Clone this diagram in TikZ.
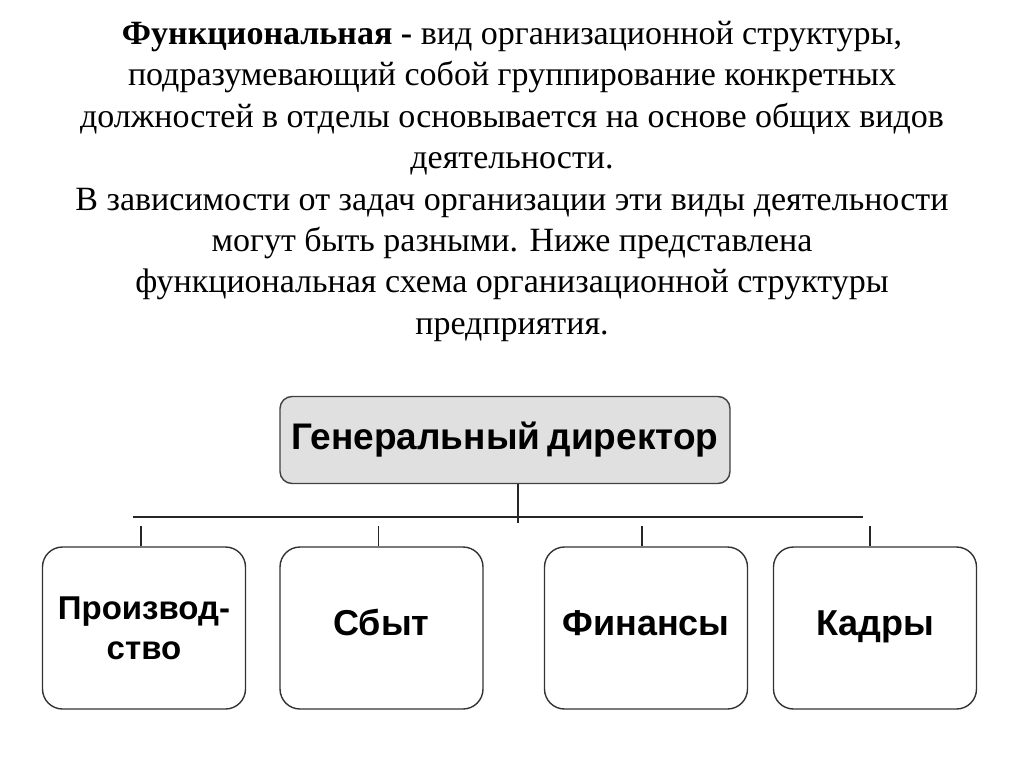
\documentclass[tikz,border=0pt]{standalone}
\usepackage{fontspec}
\setmainfont{Liberation Serif}
\setsansfont{Liberation Sans}
\usetikzlibrary{positioning,calc}

\tikzset{
  unit/.style={draw=black!80, line width=1.4pt, rounded corners=20pt,
    minimum width=203pt, minimum height=162pt, align=center,
    font=\sffamily\bfseries\fontsize{36}{35}\selectfont},
  boss/.style={draw=black!75, line width=1.4pt, rounded corners=12pt,
    fill=black!12, minimum width=450pt, minimum height=87pt,
    font=\sffamily\bfseries\fontsize{37}{40}\selectfont},
  link/.style={black!85, line width=1.3pt}
}

\begin{document}
\begin{tikzpicture}[x=1pt, y=-1pt]
  \useasboundingbox (0,0) rectangle (1024,767);

  \node[anchor=north, align=center, inner sep=0pt,
        font=\fontsize{34}{41.4}\selectfont] (intro) at (512,21)
    {\textbf{Функциональная -} вид организационной структуры,\\
     подразумевающий собой группирование конкретных\\
     должностей в отделы основывается на основе общих видов\\
     деятельности.\\
     В зависимости от задач организации эти виды деятельности\\
     могут быть разными. Ниже представлена\\
     функциональная схема организационной структуры\\
     предприятия.};

  % director
  \node[boss] (gendir) at (505,440) {Генеральный\hspace{-3pt} директор};

  % departments
  \node[unit, font=\sffamily\bfseries\fontsize{33}{40}\selectfont] (prod) at (144,628) {Производ-\\ство};
  \node[unit] (sales) at (381.5,628) {\strut Сбыт};
  \node[unit] (fin) at (646,628) {\strut Финансы};
  \node[unit] (staff) at (875,628) {\strut Кадры};

  % bus
  \coordinate (hub) at (518,523);
  \coordinate (busL) at (133,517);
  \coordinate (busR) at (863,517);
  \draw[link] (hub |- gendir.south) -- (hub);
  \draw[link] (busL) -- (busR);
  \draw[link] ([xshift=-3pt]prod.north) -- ++(0,-20);
  \draw[link] ([xshift=-3pt]sales.north) -- ++(0,-20);
  \draw[link] ([xshift=-4pt]fin.north) -- ++(0,-20);
  \draw[link] ([xshift=-5pt]staff.north) -- ++(0,-20);
\end{tikzpicture}
\end{document}
